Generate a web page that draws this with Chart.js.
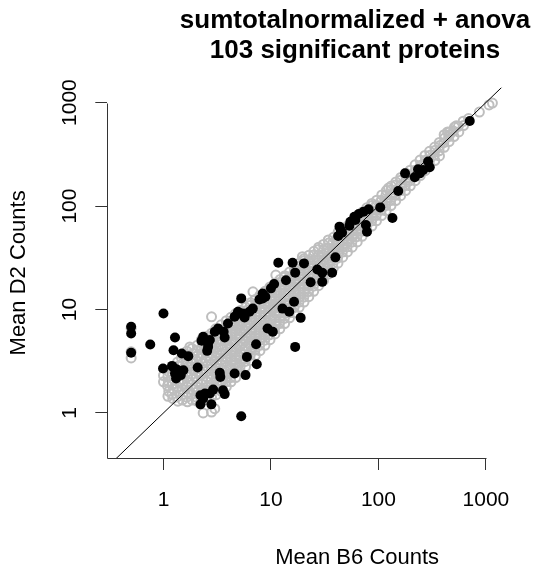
<!DOCTYPE html>
<html><head><meta charset="utf-8">
<script src="https://cdn.jsdelivr.net/npm/chart.js@4/dist/chart.umd.min.js"></script>
<style>html,body{margin:0;padding:0;overflow:hidden;background:#fff}</style>
</head><body>
<canvas id="c" width="710" height="569" style="display:block;width:710px;height:569px"></canvas>
<script>
const titleLines = ['sumtotalnormalized + anova', '103 significant proteins'];
const xAxisTitle = 'Mean B6 Counts';
const yAxisTitle = 'Mean D2 Counts';
const xTicks = [1, 10, 100, 1000];
const yTicks = [1, 10, 100, 1000];
const xRange = [0.324, 13400];
const yRange = [0.3667, 1390];
const identityLine = [0.1, 20000];

// all proteins (grey open circles), [B6, D2]
const grayPoints = [
[1.1,1.45],[1.12,1.62],[1.09,1.83],[1.11,2.02],[1.1,2.25],[1.13,2.5],
[1.22,1.38],[1.2,1.52],[1.23,1.7],[1.21,1.9],[1.24,2.12],[1.22,2.38],[1.2,2.7],
[1.36,1.3],[1.34,1.43],[1.37,1.6],[1.35,1.8],[1.38,2.0],[1.36,2.25],[1.33,2.5],[1.37,2.85],[1.35,3.1],
[1.5,1.33],[1.52,1.5],[1.49,1.68],[1.51,1.9],[1.48,2.1],[1.5,2.37],[1.53,2.65],[1.5,3.0],[1.47,3.4],
[1.67,1.28],[1.65,1.42],[1.68,1.58],[1.66,1.78],[1.69,2.0],[1.67,2.22],[1.64,2.5],[1.68,2.8],[1.66,3.15],[1.7,3.55],[1.65,3.95],
[1.85,1.33],[1.83,1.5],[1.87,1.68],[1.84,1.88],[1.86,2.1],[1.82,2.37],[1.88,2.65],[1.85,3.0],[1.83,3.35],[1.87,3.75],[1.84,4.2],
[2.05,1.3],[2.03,1.42],[2.07,1.6],[2.04,1.78],[2.06,2.0],[2.02,2.24],[2.08,2.5],[2.05,2.82],[2.03,3.15],[2.07,3.55],[2.04,4.0],[2.06,4.5],
[2.28,1.3],[2.25,1.5],[2.3,1.68],[2.27,1.88],[2.29,2.1],[2.26,2.37],[2.31,2.66],[2.28,3.0],[2.25,3.35],[2.3,3.76],[2.27,4.22],[2.29,4.73],[2.26,5.1],
[2.53,1.36],[2.5,1.58],[2.56,1.78],[2.52,2.0],[2.55,2.24],[2.51,2.51],[2.54,2.82],[2.5,3.16],[2.56,3.55],[2.52,3.98],[2.55,4.47],[2.51,5.0],[2.54,5.5],
[2.8,1.42],[2.77,1.6],[2.83,1.88],[2.79,2.11],[2.82,2.37],[2.78,2.66],[2.81,2.99],[2.77,3.35],[2.83,3.76],[2.79,4.22],[2.82,4.73],[2.78,5.3],[2.8,5.9],
[3.1,1.5],[3.07,1.7],[3.13,1.9],[3.09,2.15],[3.12,2.4],[3.08,2.7],[3.11,3.0],[3.07,3.4],[3.13,3.8],[3.09,4.25],[3.12,4.8],[3.08,5.4],[3.1,6.0],[3.06,6.5],
[3.45,1.62],[3.42,1.85],[3.48,2.05],[3.44,2.3],[3.47,2.6],[3.43,2.9],[3.46,3.25],[3.42,3.65],[3.48,4.1],[3.44,4.6],[3.47,5.15],[3.43,5.8],[3.46,6.4],[3.44,7.1],
[3.85,1.8],[3.82,2.0],[3.88,2.25],[3.84,2.5],[3.87,2.8],[3.83,3.15],[3.86,3.5],[3.82,3.95],[3.88,4.45],[3.84,5.0],[3.87,5.6],[3.83,6.3],[3.86,7.0],[3.84,7.8],
[4.25,2.0],[4.22,2.2],[4.28,2.45],[4.24,2.75],[4.27,3.1],[4.23,3.45],[4.26,3.9],[4.22,4.35],[4.28,4.9],[4.24,5.5],[4.27,6.1],[4.23,6.9],[4.26,7.6],[4.24,8.4],
[4.7,2.2],[4.66,2.45],[4.73,2.75],[4.68,3.05],[4.72,3.45],[4.67,3.85],[4.71,4.3],[4.66,4.85],[4.73,5.4],[4.68,6.1],[4.72,6.8],[4.67,7.6],[4.71,8.4],[4.69,9.1],
[5.2,2.5],[5.16,2.8],[5.24,3.1],[5.18,3.5],[5.22,3.9],[5.17,4.4],[5.23,4.9],[5.18,5.5],[5.22,6.2],[5.17,6.9],[5.23,7.7],[5.19,8.7],[5.21,9.8],
[5.8,2.8],[5.76,3.15],[5.84,3.5],[5.78,3.95],[5.82,4.4],[5.77,4.95],[5.83,5.55],[5.78,6.2],[5.82,6.95],[5.77,7.8],[5.83,8.7],[5.79,9.7],[5.81,10.5],
[6.45,3.2],[6.4,3.6],[6.5,4.0],[6.43,4.5],[6.48,5.0],[6.42,5.6],[6.49,6.3],[6.43,7.05],[6.47,7.9],[6.42,8.85],[6.48,9.9],[6.44,11.0],[6.46,11.6],
[7.15,3.6],[7.1,4.05],[7.2,4.5],[7.12,5.05],[7.18,5.65],[7.11,6.35],[7.19,7.1],[7.13,7.95],[7.17,8.9],[7.11,10],[7.19,11.2],[7.14,12.5],
[7.9,4.0],[7.85,4.5],[7.95,5.05],[7.87,5.65],[7.93,6.3],[7.86,7.1],[7.94,7.95],[7.88,8.9],[7.92,10],[7.86,11.2],[7.94,12.5],[7.89,13.7],
[8.8,4.5],[8.74,5.05],[8.86,5.65],[8.77,6.35],[8.83,7.1],[8.76,7.95],[8.85,8.9],[8.78,10],[8.82,11.2],[8.75,12.6],[8.84,14.1],[8.79,15],
[9.8,5.1],[9.73,5.7],[9.87,6.4],[9.76,7.2],[9.84,8.0],[9.75,9.0],[9.85,10.1],[9.77,11.3],[9.83,12.7],[9.74,14.2],[9.86,15.9],[9.79,16.5],
[10.9,5.8],[10.8,6.5],[11.0,7.3],[10.85,8.2],[10.95,9.2],[10.83,10.3],[10.97,11.5],[10.86,12.9],[10.93,14.5],[10.84,16.2],[10.96,18],
[12.1,6.5],[12.0,7.3],[12.2,8.2],[12.05,9.2],[12.15,10.3],[12.02,11.5],[12.18,12.9],[12.06,14.5],[12.14,16.2],[12.03,18.2],[12.17,19.5],
[13.4,7.3],[13.3,8.2],[13.5,9.2],[13.35,10.3],[13.45,11.6],[13.32,13],[13.48,14.6],[13.36,16.3],[13.44,18.3],[13.33,20.5],[13.47,21.2],
[14.9,8.3],[14.8,9.3],[15.0,10.4],[14.85,11.7],[14.95,13.1],[14.82,14.7],[14.98,16.5],[14.86,18.5],[14.94,20.7],[14.88,23],
[16.5,9.3],[16.4,10.4],[16.6,11.7],[16.45,13.1],[16.55,14.7],[16.42,16.5],[16.58,18.5],[16.46,20.8],[16.54,23.3],[16.48,25.5],
[18.3,10.5],[18.2,11.8],[18.4,13.2],[18.25,14.8],[18.35,16.6],[18.22,18.6],[18.38,20.9],[18.26,23.4],[18.34,26.2],[18.28,28],
[20.3,11.8],[20.2,13.2],[20.4,14.8],[20.25,16.6],[20.35,18.7],[20.22,21],[20.38,23.5],[20.26,26.4],[20.34,29.6],[20.28,31],
[22.5,13.3],[22.4,14.9],[22.6,16.8],[22.45,18.8],[22.55,21.1],[22.42,23.7],[22.58,26.6],[22.46,29.8],[22.54,33.4],
[25,15],[24.8,16.8],[25.2,18.9],[24.9,21.2],[25.1,23.8],[24.85,26.7],[25.15,30],[24.9,33.6],[25.1,36.5],
[27.7,17],[27.5,19.1],[27.9,21.4],[27.6,24],[27.8,26.9],[27.55,30.2],[27.85,33.9],[27.6,38],[27.8,40],
[30.8,19],[30.6,21.3],[31.0,23.9],[30.7,26.8],[30.9,30.1],[30.65,33.8],[30.95,37.9],[30.75,42.5],
[34.2,22],[34.0,24.7],[34.4,27.7],[34.1,31.1],[34.3,34.9],[34.05,39.1],[34.35,43.9],[34.15,47],
[38,25],[37.7,28],[38.3,31.5],[37.85,35.3],[38.15,39.6],[37.8,44.4],[38.2,49.8],
[42,28],[41.7,31.4],[42.3,35.2],[41.85,39.5],[42.15,44.3],[41.8,49.7],[42.2,55.8],
[46.5,32],[46.2,35.9],[46.8,40.3],[46.35,45.2],[46.65,50.7],[46.3,56.9],[46.7,61],
[51.5,36],[51.1,40.4],[51.9,45.3],[51.3,50.8],[51.7,57],[51.4,64],
[57,40],[56.6,44.9],[57.4,50.4],[56.8,56.5],[57.2,63.4],[56.9,71],
[63.5,45],[63,50.5],[64,56.7],[63.3,63.6],[63.7,71.4],[63.4,79],
[70.5,51],[70,57.2],[71,64.2],[70.3,72],[70.7,80.8],[70.4,87],
[78,57],[77.5,64],[78.5,71.8],[77.7,80.5],[78.3,90.3],[77.9,96],
[87,64],[86.4,71.8],[87.6,80.6],[86.7,90.4],[87.3,101],[86.9,106],
[96,72],[95.3,80.8],[96.7,90.7],[95.6,102],[96.4,114],
[107,81],[106.2,90.9],[107.8,102],[106.5,114],[107.5,128],
[118,90],[117,101],[119,113],[117.5,127],[118.5,141],
[131,101],[130,113],[132,127],[130.5,143],[131.5,156],
[145,113],[144,127],[146,142],[144.5,160],[145.5,171],
[161,126],[160,141],[162,158],[160.5,178],[161.5,189],
[179,141],[178,158],[180,177],[178.5,199],[179.5,208],
[198,157],[197,176],[199,198],[197.5,222],
[220,176],[219,198],[221,222],[219.5,250],
[245,197],[243,221],[247,248],[244,278],
[272,220],[270,247],[274,277],[271,308],
[300,245],[298,275],[302,309],[299,338],
[335,275],[332,309],[338,347],[334,372],
[370,305],[367,342],[373,384],[369,412],
[410,370],[406,410],[414,455],[409,490],
[455,420],[451,470],[459,520],
[505,470],[500,530],[510,580],
[560,520],[555,590],
[620,600],[615,660],
[690,700],[870,810],[1070,950],[1150,990],
[0.5,3.4],[0.5,3.9],[0.5,6.6],[1.0,2.3],[1.0,2.0],[1.76,4.35],[2.8,8.5],[6.8,14.8],[11.1,21.5],[19.6,32.4],
[2.34,1.0],[2.8,1.02],[3.0,1.1],[124,149],[530,596],[440,520],[460,490]
];

// 103 significant proteins (black filled), [B6, D2]
const sigPoints = [
[708,665],[290,269],[300,237],[177,207],[218,190],[243,207],[261,223],[234,227],
[153,140],[104,97],[135,76.6],[81,93],[72.8,88.3],[65.5,83.8],[59.7,78.9],[54.8,70.6],
[53.7,64.6],[76.5,65.6],[78.2,56.5],[43.4,63.2],[42.2,51.3],[45.9,55.3],[44.6,58.7],[61,73.3],
[39.8,31.9],[37.1,22.7],[30,22.7],[27,24.4],[30,18.5],[23.4,18.3],[16.8,22.7],[15.9,28.3],
[20.3,27.9],[11.7,28.3],[13.8,19.2],[10.7,17.6],[10,16],[8.38,14.3],[7.81,12.5],[8.38,12.8],
[8.87,13.3],[6.78,10.2],[6.31,9.5],[5.68,8.37],[5.29,12.8],[4.93,9.5],[4.59,8.5],[5.18,9.16],
[5.48,9.16],[12.8,10.2],[14.8,9.5],[16.4,11.9],[18.9,8.3],[9.3,6.55],[10.4,6.08],[16.8,4.35],
[7.27,4.62],[7.38,2.96],[5.97,3.48],[5.8,2.32],[4.59,2.41],[3.34,2.44],[3.38,2.23],[3.98,7.33],
[3.63,6.08],[3.22,6.55],[3.71,5.36],[2.34,5.44],[2.7,5.06],[2.6,4.35],[2.55,3.98],[2.26,4.98],
[2.6,4.69],[1.28,5.36],[1.0,9.16],[0.753,4.59],[0.5,6.8],[0.5,5.86],[0.5,3.81],[1.24,4.04],
[1.48,3.75],[1.70,3.54],[0.99,2.69],[1.24,2.75],[1.28,2.41],[1.31,2.15],[1.53,2.59],[1.41,2.55],
[1.33,2.63],[1.45,2.32],[2.08,2.75],[2.21,1.48],[2.7,1.54],[2.9,1.68],[3.58,1.66],[3.71,1.52],
[2.43,1.54],[2.34,1.38],[2.21,1.21],[2.79,1.21],[5.29,0.93],[1.2,2.85],[3.0,6.1]
];

const FONT = "'Liberation Sans', Arial, Helvetica, sans-serif";
Chart.defaults.font.family = FONT;
Chart.defaults.color = '#000';

const axisLines = {
  id: 'axisLines',
  afterDraw(chart) {
    const {ctx, chartArea, scales} = chart;
    const x0 = Math.round(chartArea.left) + 0.5;
    const yb = Math.round(chartArea.bottom) + 0.5;
    ctx.save();
    ctx.strokeStyle = '#333';
    ctx.lineWidth = 1;
    ctx.beginPath();
    ctx.moveTo(x0, Math.round(scales.y.getPixelForValue(yTicks[yTicks.length - 1])) + 0.5);
    ctx.lineTo(x0, yb);
    ctx.lineTo(Math.round(scales.x.getPixelForValue(xTicks[xTicks.length - 1])) + 0.5, yb);
    ctx.stroke();
    ctx.restore();
  }
};

new Chart(document.getElementById('c'), {
  type: 'scatter',
  data: {
    datasets: [
      {
        label: 'y = x',
        data: identityLine.map(v => ({x: v, y: v})),
        showLine: true,
        borderColor: '#000',
        borderWidth: 1,
        pointRadius: 0,
        fill: false,
        order: 0
      },
      {
        label: 'significant',
        data: sigPoints.map(p => ({x: p[0], y: p[1]})),
        pointRadius: 5,
        pointBackgroundColor: '#000',
        pointBorderColor: '#000',
        pointBorderWidth: 0,
        order: 1
      },
      {
        label: 'all',
        data: grayPoints.map(p => ({x: p[0], y: p[1]})),
        pointRadius: 4.5,
        pointBackgroundColor: 'rgba(0,0,0,0)',
        pointBorderColor: '#bebebe',
        pointBorderWidth: 2,
        order: 2
      }
    ]
  },
  options: {
    responsive: false,
    maintainAspectRatio: false,
    animation: false,
    events: [],
    devicePixelRatio: 1,
    layout: {padding: 0},
    plugins: {
      legend: {display: false},
      tooltip: {enabled: false},
      title: {
        display: true,
        text: titleLines,
        color: '#000',
        font: {family: FONT, size: 26, weight: 'bold', lineHeight: 1.15},
        padding: {top: 6, bottom: 22}
      }
    },
    scales: {
      x: {
        type: 'logarithmic',
        position: 'bottom',
        min: xRange[0],
        max: xRange[1],
        afterBuildTicks: s => { s.ticks = xTicks.map(v => ({value: v})); },
        afterFit: s => { s.height = 111; },
        ticks: {
          callback: v => String(v),
          font: {size: 21},
          color: '#000',
          padding: 18,
          autoSkip: false,
          minRotation: 0,
          maxRotation: 0
        },
        grid: {display: true, drawOnChartArea: false, drawTicks: true, tickLength: 12, color: '#333', lineWidth: 1},
        border: {display: false},
        title: {display: true, text: xAxisTitle, color: '#000', font: {size: 22, lineHeight: 1}, padding: {top: 0, bottom: 0.5}}
      },
      y: {
        type: 'logarithmic',
        position: 'left',
        min: yRange[0],
        max: yRange[1],
        afterBuildTicks: s => { s.ticks = yTicks.map(v => ({value: v})); },
        afterFit: s => { s.width = 107.3; },
        ticks: {
          callback: v => String(v),
          font: {size: 21},
          color: '#000',
          padding: 2,
          autoSkip: false,
          minRotation: 90,
          maxRotation: 90,
          crossAlign: 'center'
        },
        grid: {display: true, drawOnChartArea: false, drawTicks: true, tickLength: 12, color: '#333', lineWidth: 1},
        border: {display: false},
        title: {display: true, text: yAxisTitle, color: '#000', font: {size: 22, lineHeight: 1.2}, padding: {top: 5.6, bottom: 0}}
      },
      yR: {
        type: 'linear',
        position: 'right',
        display: true,
        afterFit: s => { s.width = 103; },
        grid: {display: false},
        ticks: {display: false},
        border: {display: false}
      }
    }
  },
  plugins: [axisLines]
});
</script>
</body></html>
